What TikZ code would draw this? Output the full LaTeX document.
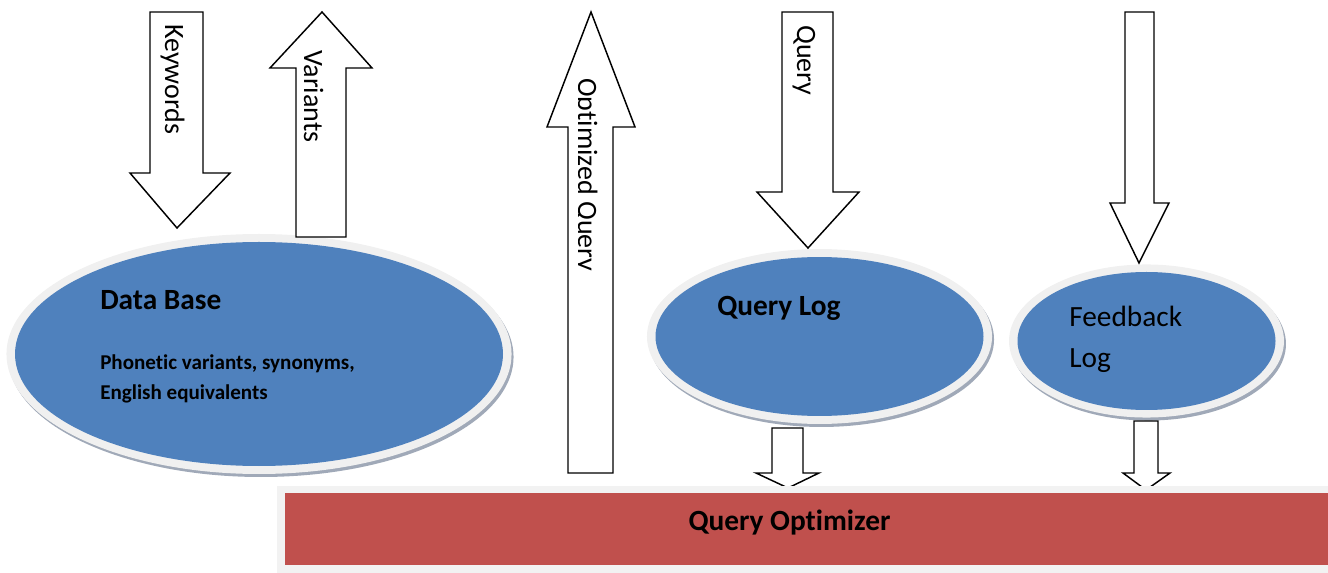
\documentclass[tikz,border=0pt]{standalone}
\usepackage{fontspec}
\setmainfont{Carlito}[Ligatures=NoCommon]
\definecolor{dbblue}{HTML}{4F81BD}
\definecolor{optred}{HTML}{C0504D}
\definecolor{rimgray}{HTML}{F0F0F0}
\definecolor{shadegray}{HTML}{A0A9B8}
\definecolor{framegray}{HTML}{F2F2F2}
\tikzset{
  blockarrow/.style={draw=black, fill=white, line width=1.1pt, line join=miter},
  shadowfill/.style={fill=shadegray},
  rimfill/.style={fill=rimgray},
  bluefill/.style={fill=dbblue},
  title/.style={inner sep=0pt, anchor=base west, font=\fontsize{22}{26}\selectfont\bfseries},
  plain/.style={inner sep=0pt, anchor=base west, font=\fontsize{22}{26}\selectfont},
  small/.style={inner sep=0pt, anchor=base west, font=\fontsize{15.8}{18}\selectfont\bfseries},
  arrowtext/.style={inner sep=0pt, anchor=base west, rotate=-90, font=\fontsize{21}{24}\selectfont},
}
\begin{document}
\begin{tikzpicture}[x=0.75pt, y=-0.75pt]
\useasboundingbox (0,0) rectangle (1328,573);

% ---- centres of the three stores ----
\coordinate (dbc) at (259,354);
\coordinate (qlc) at (819.5,336.5);
\coordinate (fbc) at (1146.5,341);

% ---- Data Base ellipse ----
\fill[shadowfill] ([shift={(2,3)}]dbc) ellipse [x radius=189.4pt, y radius=90pt];
\fill[rimfill] (dbc) ellipse [x radius=189.4pt, y radius=90pt];
\fill[bluefill] (dbc) ellipse [x radius=183pt, y radius=84pt];

% ---- Query Log ellipse ----
\fill[shadowfill] ([shift={(2,3)}]qlc) ellipse [x radius=129.4pt, y radius=65.6pt];
\fill[rimfill] (qlc) ellipse [x radius=129.4pt, y radius=65.6pt];
\fill[bluefill] (qlc) ellipse [x radius=123pt, y radius=59.6pt];

% ---- Feedback Log ellipse ----
\fill[shadowfill] ([shift={(2,3)}]fbc) ellipse [x radius=103.1pt, y radius=57.4pt];
\fill[rimfill] (fbc) ellipse [x radius=103.1pt, y radius=57.4pt];
\fill[bluefill] (fbc) ellipse [x radius=96.75pt, y radius=51.75pt];

% ---- texts inside the stores ----
\node[title] (dbtitle) at (100,310) {Data Base};
\node[small] (dbline1) at (100,370) {Phonetic variants, synonyms,};
\node[small] (dbline2) at (100,400) {English equivalents};
\node[title] (qltitle) at (717,316) {Query Log};
\node[plain] (fbline1) at (1069,327) {Feedback};
\node[plain] (fbline2) at (1069,368) {Log};

% ---- Keywords (down) ----
\draw[blockarrow] (150,12) -- (203,12) -- (203,173) -- (230,173) -- (177,228)
  -- (130,173) -- (150,173) -- cycle;
\node[arrowtext] (kwlabel) at (165,24) {Keywords};

% ---- Variants (up) ----
\draw[blockarrow] (296,237) -- (296,68) -- (270,68) -- (322,12) -- (372,68)
  -- (346,68) -- (346,237) -- cycle;
\node[arrowtext] (varlabel) at (304,50) {Variants};

% ---- Optimized Query (up) ----
\draw[blockarrow] (568,473) -- (568,127) -- (547,127) -- (591,12) -- (635,127)
  -- (613,127) -- (613,473) -- cycle;
\begin{scope}
  \clip (578,60) rectangle (612,300);
  \node[arrowtext] (oqlabel) at (578,78) {Optimized Query};
\end{scope}

% ---- Query (down) ----
\draw[blockarrow] (782,12) -- (833,12) -- (833,192) -- (859,192) -- (808,248)
  -- (757,192) -- (782,192) -- cycle;
\node[arrowtext] (qlabel) at (797,25) {Query};

% ---- feedback input (down) ----
\draw[blockarrow] (1125,12) -- (1154,12) -- (1154,203) -- (1169,203) -- (1139,263)
  -- (1110,203) -- (1125,203) -- cycle;

% ---- small arrows into the optimizer ----
\draw[blockarrow] (772,428) -- (803,428) -- (803,473) -- (819,473) -- (788,488)
  -- (756,473) -- (772,473) -- cycle;
\draw[blockarrow] (1134,421) -- (1158,421) -- (1158,473) -- (1170,473) -- (1146,490)
  -- (1123,473) -- (1134,473) -- cycle;

% ---- Query Optimizer bar ----
\fill[framegray] (277,486) rectangle (1328,573);
\fill[optred] (285,493) rectangle (1328,565);
\node[inner sep=0pt, anchor=base, font=\fontsize{22}{26}\selectfont\bfseries] (optlabel) at (789.5,530) {Query Optimizer};
\end{tikzpicture}
\end{document}
